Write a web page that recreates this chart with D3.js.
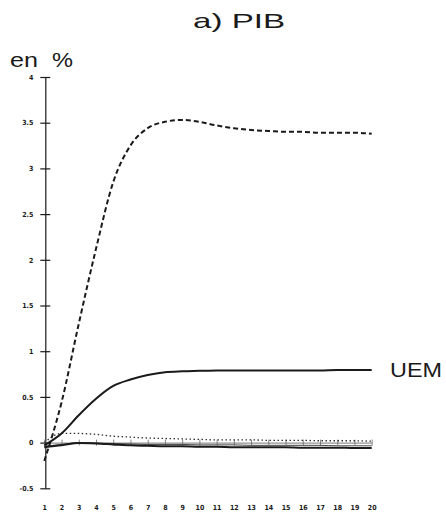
<!DOCTYPE html>
<html><head><meta charset="utf-8">
<script src="https://cdn.jsdelivr.net/npm/d3@7"></script>
<style>html,body{margin:0;padding:0;background:#fff;}svg{display:block;}</style>
</head><body>
<svg id="c" width="446" height="518"></svg>
<script>
const periods = d3.range(1, 21);
const xTickLabels = periods.map(String);
const yTicks = [-0.5, 0, 0.5, 1, 1.5, 2, 2.5, 3, 3.5, 4];
const yTickLabels = ["-0.5", "0", "0.5", "1", "1.5", "2", "2.5", "3", "3.5", "4"];
const dashedSeries = [-0.2, 0.44, 1.3, 2.12, 2.85, 3.25, 3.44, 3.51, 3.53, 3.51, 3.47, 3.44, 3.42, 3.41, 3.40, 3.40, 3.39, 3.39, 3.39, 3.38];
const uemSeries = [-0.03, 0.10, 0.30, 0.48, 0.62, 0.69, 0.74, 0.77, 0.78, 0.785, 0.79, 0.79, 0.79, 0.79, 0.79, 0.79, 0.79, 0.795, 0.795, 0.795];
const dottedSeries = [0.0, 0.10, 0.10, 0.09, 0.07, 0.06, 0.05, 0.045, 0.04, 0.035, 0.03, 0.03, 0.03, 0.025, 0.025, 0.025, 0.02, 0.02, 0.02, 0.015];
const thickLowSeries = [-0.05, -0.03, -0.005, -0.01, -0.02, -0.03, -0.035, -0.04, -0.04, -0.045, -0.045, -0.05, -0.05, -0.05, -0.05, -0.055, -0.055, -0.055, -0.06, -0.06];
const thinLowSeries = [-0.04, -0.02, 0.0, -0.005, -0.01, -0.015, -0.02, -0.02, -0.02, -0.025, -0.025, -0.025, -0.03, -0.03, -0.03, -0.03, -0.03, -0.035, -0.035, -0.035];

const svg = d3.select("#c");
const x = d3.scaleLinear().domain([1, 20]).range([44.3, 371.7]);
const y = d3.scaleLinear().domain([-0.5, 4]).range([488.3, 77]);
const ink = "#1a1a1a";
const sans = "Liberation Sans, Arial, sans-serif";

function label(tx, ty, size, len, str) {
  svg.append("text").attr("x", tx).attr("y", ty).attr("font-family", sans).attr("font-size", size)
    .attr("fill", ink).attr("textLength", len).attr("lengthAdjust", "spacingAndGlyphs").text(str);
}
// title and unit
label(193, 28, 21, 92, "a) PIB");
label(10, 67, 20, 28, "en");
label(52, 67, 20, 21, "%");

// y axis
const yAxis = d3.axisLeft(y).tickValues(yTicks).tickFormat((d, i) => yTickLabels[i]).tickSizeInner(-10).tickSizeOuter(0).tickPadding(0);
const gy = svg.append("g").attr("transform", `translate(${x(1) + 1},0)`).call(yAxis);
gy.select(".domain").attr("stroke", ink).attr("stroke-width", 1.2);
gy.selectAll(".tick line").attr("x1", -5).attr("x2", 5).attr("stroke", ink).attr("stroke-width", 1.2);
gy.selectAll(".tick text").attr("x", -12).attr("font-family", "DejaVu Sans Condensed, DejaVu Sans, sans-serif")
  .attr("font-weight", "bold").attr("font-size", 7).attr("fill", ink);

// x axis at zero
const xAxis = d3.axisBottom(x).tickValues(periods).tickFormat((d, i) => xTickLabels[i]).tickSizeInner(3).tickSizeOuter(0);
const gx = svg.append("g").attr("transform", `translate(0,${y(0)})`).call(xAxis);
gx.select(".domain").attr("stroke", "#555").attr("stroke-width", 0.8);
gx.selectAll(".tick line").attr("y1", -3).attr("y2", 3).attr("stroke", "#666").attr("stroke-width", 0.8);
gx.selectAll(".tick text").attr("y", 67).attr("dy", 0).attr("font-family", "DejaVu Sans Condensed, DejaVu Sans, sans-serif")
  .attr("font-weight", "bold").attr("font-size", 7).attr("fill", ink);

const line = d3.line().x((d, i) => x(periods[i])).y(d => y(d)).curve(d3.curveMonotoneX);

svg.append("path").datum(thinLowSeries).attr("d", line).attr("fill", "none").attr("stroke", "#444").attr("stroke-width", 1);
svg.append("path").datum(thickLowSeries).attr("d", line).attr("fill", "none").attr("stroke", ink).attr("stroke-width", 2);
svg.append("path").datum(dottedSeries).attr("d", line).attr("fill", "none").attr("stroke", "#333").attr("stroke-width", 1.3).attr("stroke-dasharray", "1.5,2.5");
svg.append("path").datum(uemSeries).attr("d", line).attr("fill", "none").attr("stroke", ink).attr("stroke-width", 2);
svg.append("path").datum(dashedSeries).attr("d", line).attr("fill", "none").attr("stroke", ink).attr("stroke-width", 2).attr("stroke-dasharray", "5,3");

label(390, 377, 21, 52, "UEM");
</script>
</body></html>
